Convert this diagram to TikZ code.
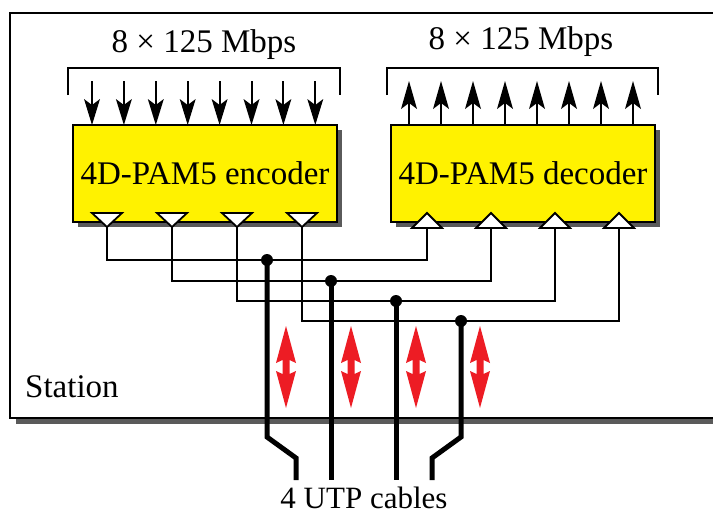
\documentclass[tikz,border=0pt]{standalone}
\usepackage{fontspec}
\setmainfont{Liberation Serif}
\usetikzlibrary{arrows.meta,shadows}
\definecolor{boxyellow}{HTML}{FFF200}
\definecolor{arrred}{HTML}{ED1C24}
\definecolor{shadowgray}{HTML}{5A5A5A}
\begin{document}
\begin{tikzpicture}[x=1pt,y=-1pt,
  lbl/.style={font=\fontsize{33}{38}\selectfont, inner sep=0pt},
  unit/.style={draw=black, line width=1.8pt, fill=boxyellow, minimum width=264pt, minimum height=97pt,
     font=\fontsize{33}{38}\selectfont, inner sep=0pt,
     drop shadow={shadow xshift=5pt, shadow yshift=-5pt, fill=shadowgray, opacity=1}},
  wire/.style={line width=2pt, line join=miter},
  cable/.style={line width=5pt, line join=miter},
  bracket/.style={line width=1.6pt},
  bit/.style={line width=2pt},
  headfill/.style={fill=black},
  tri/.style={draw=black, line width=1.8pt, fill=white, line join=miter},
  dot/.style={circle, fill=black, inner sep=0pt, minimum size=12pt},
  red2/.style={fill=arrred}
]
\useasboundingbox (0,0) rectangle (713,514);
% station
\fill[shadowgray] (16,19) rectangle (730,424);
\draw[line width=2pt, fill=white] (10,13) rectangle (730,418);
\node[lbl, anchor=west] (station) at (25,387) {Station};

% rate labels and brackets
\node[lbl] (rin) at (204,45) {8 × 125 Mbps};
\node[lbl] (rout) at (521,42) {8 × 125 Mbps};
\draw[bracket] (68,95) -- (68,68) -- (340,68) -- (340,95);
\draw[bracket] (387,95) -- (387,68) -- (658,68) -- (658,95);

% boxes
\node[unit] (enc) at (205,173.5) {4D-PAM5 encoder};
\node[unit] (dec) at (523,173.5) {4D-PAM5 decoder};

% 8 bit lines with explicit stealth heads
\foreach \i in {0,...,7} {
  \coordinate (ia\i) at ({92+31.9*\i},81);
  \coordinate (ib\i) at ({92+31.9*\i},125);
  \draw[bit] (ia\i) -- ([yshift=10pt]ib\i);
  \fill[headfill] (ib\i) -- ++(-8,-26) -- ++(8,6) -- ++(8,-6) -- cycle;
  \coordinate (oa\i) at ({409+32*\i},125);
  \coordinate (ob\i) at ({409+32*\i},81);
  \draw[bit] (oa\i) -- ([yshift=-10pt]ob\i);
  \fill[headfill] (ob\i) -- ++(-8,28) -- ++(8,-6) -- ++(8,6) -- cycle;
}

% wire pair coordinates
\foreach \n/\ex/\dx/\hy in {1/107/427/260, 2/172/491/281, 3/237/555/301, 4/302/619/321} {
  \coordinate (et\n) at (\ex,227);
  \coordinate (dt\n) at (\dx,228);
  \coordinate (hl\n) at (\ex,\hy);
  \coordinate (hr\n) at (\dx,\hy);
}
\foreach \n in {1,...,4} {
  \draw[wire] (et\n) -- (hl\n) -- (hr\n) -- (dt\n);
}
% triangles
\foreach \n in {1,...,4} {
  \draw[tri] ([xshift=-15pt,yshift=14pt]et\n) -- ([xshift=15pt,yshift=14pt]et\n) -- (et\n) -- cycle;
  \draw[tri] ([xshift=-15pt]dt\n) -- ([xshift=15pt]dt\n) -- ([yshift=15pt]dt\n) -- cycle;
}

% cables
\node[dot] (j1) at (267,260) {};
\node[dot] (j2) at (331,281) {};
\node[dot] (j3) at (396,301) {};
\node[dot] (j4) at (461,321) {};
\coordinate (c1a) at (267,437); \coordinate (c1b) at (296,458); \coordinate (c1) at (296,480);
\coordinate (c2) at (331,480);
\coordinate (c3) at (396,480);
\coordinate (c4a) at (461,437); \coordinate (c4b) at (432,458); \coordinate (c4) at (432,480);
\draw[cable] (j1.center) -- (c1a) -- (c1b) -- (c1);
\draw[cable] (j2.center) -- (c2);
\draw[cable] (j3.center) -- (c3);
\draw[cable] (j4.center) -- (c4a) -- (c4b) -- (c4);
\node[lbl, font=\fontsize{31}{36}\selectfont] (utp) at (364,498) {4 UTP cables};

% red double arrows
\foreach \x in {286,351,416,480} {
  \fill[red2] (\x,326) -- (\x+10,363) -- (\x+3.5,360) -- (\x+3.5,374) -- (\x+10,371) -- (\x,408)
     -- (\x-10,371) -- (\x-3.5,374) -- (\x-3.5,360) -- (\x-10,363) -- cycle;
}
\end{tikzpicture}
\end{document}
